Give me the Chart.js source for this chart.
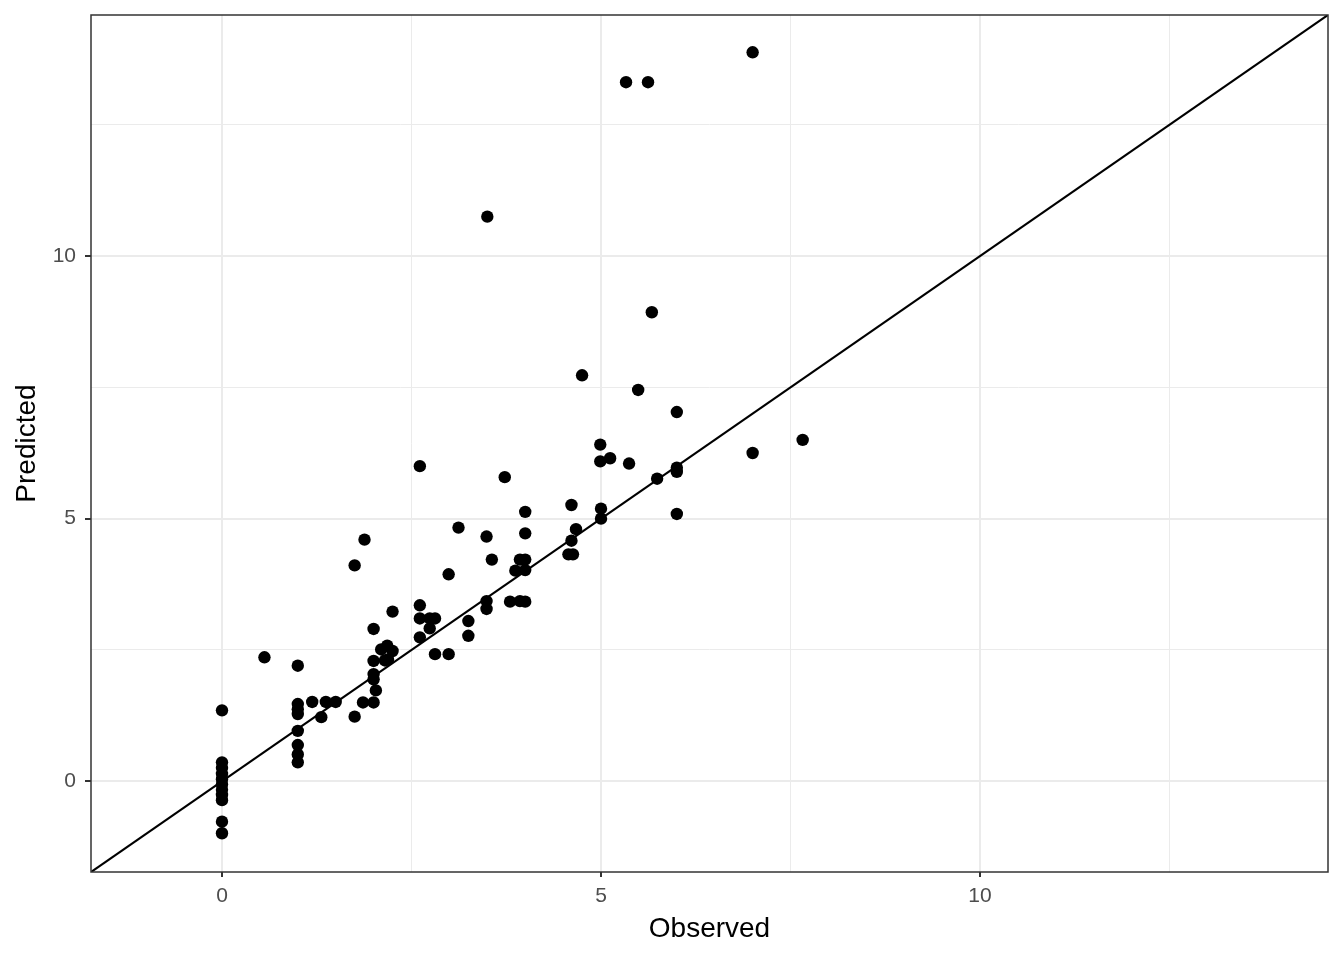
<!DOCTYPE html>
<html>
<head>
<meta charset="utf-8">
<script src="https://cdn.jsdelivr.net/npm/chart.js@4/dist/chart.umd.min.js"></script>
<style>
  html, body { margin: 0; padding: 0; background: #ffffff; }
  #wrap { width: 1344px; height: 960px; }
</style>
</head>
<body>
<div id="wrap"><canvas id="c" width="1344" height="960"></canvas></div>
<script>
// Observed values
const observed = [
  0, 0, 0, 0, 0, 0, 0, 0, 0, 0, 0,
  0.56,
  1, 1, 1, 1, 1, 1, 1, 1,
  1.19, 1.37, 1.5, 1.31, 1.75, 1.86, 2.0,
  2.0, 2.0, 2.0, 2.03, 2.1, 2.18, 2.25, 2.15, 2.19, 2.0, 2.25, 1.75, 1.88,
  2.61, 2.61, 2.61, 2.74, 2.81, 2.74, 2.81, 2.99, 2.99, 3.12, 3.25, 3.25,
  3.49, 3.49, 3.49, 3.56, 3.8, 3.93, 4.0, 3.87, 3.93, 4.0, 4.0, 4.0, 4.0,
  4.61, 4.67, 4.61, 4.57, 4.63, 3.73, 2.61,
  5.67, 4.75, 5.49, 6.0, 4.99, 4.99, 5.12, 5.37, 6.0, 6.0, 5.74, 6.0, 7.0, 7.66, 5.0, 5.0,
  3.5, 5.33, 5.62, 7.0
];
// Predicted values
const predicted = [
  1.35, 0.36, 0.25, 0.14, 0.04, -0.06, -0.16, -0.26, -0.36, -0.77, -0.99,
  2.36,
  2.2, 1.47, 1.37, 1.28, 0.96, 0.69, 0.51, 0.36,
  1.51, 1.51, 1.51, 1.22, 1.23, 1.5, 1.5,
  2.29, 2.04, 1.94, 1.73, 2.51, 2.58, 2.48, 2.30, 2.32, 2.9, 3.23, 4.11, 4.6,
  3.35, 3.1, 2.74, 3.1, 3.1, 2.91, 2.42, 2.42, 3.94, 4.83, 3.05, 2.77,
  4.66, 3.43, 3.28, 4.22, 3.42, 3.43, 3.42, 4.01, 4.22, 4.22, 4.02, 4.72, 5.13,
  5.26, 4.8, 4.58, 4.32, 4.32, 5.79, 6.0,
  8.93, 7.73, 7.45, 7.03, 6.41, 6.09, 6.15, 6.05, 5.97, 5.89, 5.76, 5.09, 6.25, 6.5, 5.19, 5.0,
  10.75, 13.31, 13.31, 13.88
];
// Axis limits and ticks (same for both axes)
const axisMin = -1.728;
const axisMax = 14.59;
const majorTicks = [0, 5, 10];
const minorTicks = [2.5, 7.5, 12.5];
// Identity line endpoints (y = x)
const identityX = [axisMin, axisMax];

const points = observed.map((x, i) => ({ x: x, y: predicted[i] }));
const identity = identityX.map(v => ({ x: v, y: v }));

const allTicks = majorTicks.concat(minorTicks).sort((a, b) => a - b);
const isMajor = v => majorTicks.some(m => Math.abs(m - v) < 1e-9);

function axisConfig(titleText, isX) {
  return {
    type: 'linear',
    min: axisMin,
    max: axisMax,
    afterBuildTicks: s => { s.ticks = allTicks.map(v => ({ value: v })); },
    afterFit: s => {
      if (isX) { s.height = 88; s.paddingLeft = 0; s.paddingRight = 0; }
      else { s.width = 91; s.paddingTop = 0; s.paddingBottom = 0; }
    },
    ticks: {
      autoSkip: false,
      maxRotation: 0,
      color: '#4D4D4D',
      font: { family: '"Liberation Sans", Arial, sans-serif', size: 21 },
      padding: isX ? 7 : 9,
      callback: v => isMajor(v) ? String(v) : ''
    },
    grid: {
      color: '#EBEBEB',
      lineWidth: ctx => (ctx.tick && isMajor(ctx.tick.value)) ? 2 : 1,
      tickColor: ctx => (ctx.tick && isMajor(ctx.tick.value)) ? '#333333' : 'rgba(0,0,0,0)',
      tickWidth: 2,
      tickLength: isX ? 5 : 6,
      drawTicks: true
    },
    border: { display: false },
    title: {
      display: true,
      text: titleText,
      color: '#000000',
      font: { family: '"Liberation Sans", Arial, sans-serif', size: 28 },
      padding: isX ? { top: 0, bottom: 14 } : { top: 10, bottom: 0 }
    }
  };
}

const panelBorder = {
  id: 'panelBorder',
  afterDatasetsDraw(chart) {
    const a = chart.chartArea;
    const ctx = chart.ctx;
    ctx.save();
    ctx.strokeStyle = '#333333';
    ctx.lineWidth = 1.5;
    ctx.strokeRect(a.left, a.top, a.right - a.left, a.bottom - a.top);
    ctx.restore();
  }
};

new Chart(document.getElementById('c'), {
  type: 'scatter',
  data: {
    datasets: [
      {
        label: 'Observed vs Predicted',
        data: points,
        pointRadius: 6.2,
        pointBackgroundColor: '#000000',
        pointBorderWidth: 0,
        pointBorderColor: '#000000',
        order: 2
      },
      {
        label: 'y = x',
        type: 'line',
        data: identity,
        borderColor: '#000000',
        borderWidth: 2.2,
        pointRadius: 0,
        fill: false,
        order: 1
      }
    ]
  },
  options: {
    responsive: false,
    animation: false,
    devicePixelRatio: 1,
    layout: { padding: { top: 15, right: 16, bottom: 0, left: 0 } },
    plugins: { legend: { display: false }, tooltip: { enabled: false } },
    scales: {
      x: axisConfig('Observed', true),
      y: axisConfig('Predicted', false)
    }
  },
  plugins: [panelBorder]
});
</script>
</body>
</html>
